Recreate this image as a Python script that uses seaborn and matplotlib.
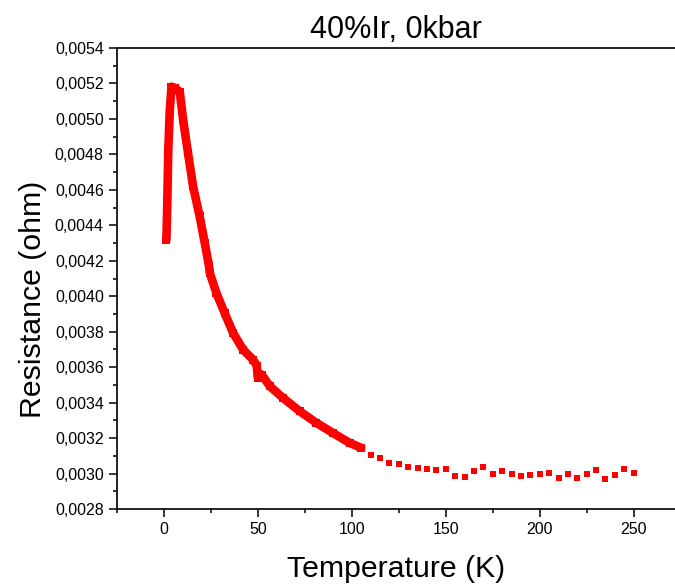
import matplotlib
matplotlib.use("Agg")
import matplotlib.pyplot as plt
import seaborn as sns
import pandas as pd
from matplotlib.ticker import MultipleLocator, FuncFormatter

# Dense measured section (K, ohm)
dense_T = [1.3, 1.8, 2.3, 3.1, 4.0, 5.7, 8.4, 10.2, 12.8, 15.5, 19.0, 21.7, 24.0,
           24.4, 27.9, 32.3, 36.8, 42.1, 47.4, 49.4, 49.9, 52.0, 56.4, 63.4,
           72.3, 81.1, 89.9, 98.8, 105.0]
dense_R = [0.004318, 0.004544, 0.004825, 0.005051, 0.005182, 0.005175, 0.005154,
           0.004994, 0.004808, 0.004619, 0.004450, 0.004301, 0.004168, 0.004131,
           0.004018, 0.003905, 0.003793, 0.003699, 0.003642, 0.003608, 0.003541,
           0.003558, 0.003492, 0.003426, 0.003351, 0.003286, 0.003229, 0.003173,
           0.003145]

# Sparse points above 105 K
sparse_T = [105, 110, 115, 120, 125, 130, 135, 140, 145, 150, 155, 160, 165, 170,
            175, 180, 185, 190, 195, 200, 205, 210, 215, 220, 225, 230, 235, 240,
            245, 250]
sparse_R = [0.003138, 0.003106, 0.003089, 0.003061, 0.003055, 0.003039, 0.003033,
            0.003027, 0.003022, 0.003027, 0.002988, 0.002982, 0.003016, 0.003039,
            0.003000, 0.003016, 0.003000, 0.002988, 0.002994, 0.003000, 0.003005,
            0.002977, 0.003000, 0.002977, 0.003000, 0.003022, 0.002971, 0.002994,
            0.003027, 0.003005]

title = "40%Ir, 0kbar"
xlabel = "Temperature (K)"
ylabel = "Resistance (ohm)"

sns.set_style("ticks")
plt.rcParams["font.family"] = ["Liberation Sans", "DejaVu Sans"]
plt.rcParams["text.color"] = "black"
plt.rcParams["axes.labelcolor"] = "black"

fig = plt.figure(figsize=(6.75, 5.85), dpi=100)
ax = fig.add_axes([117 / 675, 76 / 585, 1 - 117 / 675, 461 / 585])

dense = pd.DataFrame({"T": dense_T, "R": dense_R})
sparse = pd.DataFrame({"T": sparse_T, "R": sparse_R})

sns.lineplot(data=dense, x="T", y="R", ax=ax, color="#ff0000", linewidth=6.2,
             marker="s", markersize=6, markeredgewidth=0, sort=True)
sns.scatterplot(data=sparse, x="T", y="R", ax=ax, color="#ff0000", marker="s",
                s=22, linewidth=0)

ax.set_xlim(-25, 272)
ax.set_ylim(0.0028, 0.0054)
ax.xaxis.set_major_locator(MultipleLocator(50))
ax.xaxis.set_minor_locator(MultipleLocator(25))
ax.yaxis.set_major_locator(MultipleLocator(0.0002))
ax.yaxis.set_minor_locator(MultipleLocator(0.0001))
ax.yaxis.set_major_formatter(FuncFormatter(lambda v, p: f"{v:.4f}".replace(".", ",")))

ax.tick_params(axis="both", which="major", direction="out", length=6, width=1.1,
               labelsize=11.5, colors="black")
ax.tick_params(axis="both", which="minor", direction="out", length=3, width=1.1,
               colors="black")
for s in ["left", "bottom", "top"]:
    ax.spines[s].set_linewidth(1.3)
    ax.spines[s].set_color("#111111")
ax.spines["right"].set_visible(False)

ax.set_title(title, fontsize=22, pad=7, color="black")
ax.set_xlabel(xlabel, fontsize=21.8, labelpad=13)
ax.set_ylabel(ylabel, fontsize=21.8)
ax.yaxis.set_label_coords(-0.125, 0.4555)

fig.savefig("out.png", dpi=100)
